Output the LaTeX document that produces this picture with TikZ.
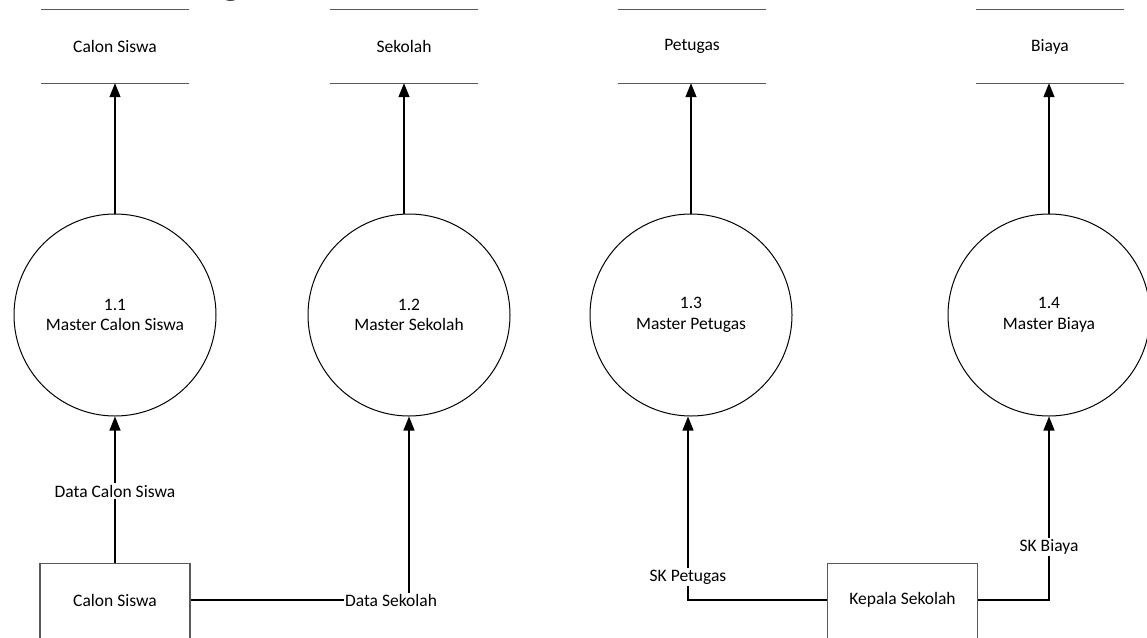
\documentclass[tikz,border=0pt]{standalone}
\usepackage{fontspec}
\setmainfont{Carlito}
\newfontfamily\titlefont{Liberation Serif}
\usetikzlibrary{arrows.meta}
\begin{document}
\begin{tikzpicture}[x=1pt,y=-1pt,
  font=\fontsize{17.5}{20.5}\selectfont,
  proc/.style={circle, draw=black, line width=1pt, minimum size=202pt, inner sep=0pt, align=center, text=black},
  storenode/.style={minimum width=148pt, minimum height=73pt, inner sep=0pt, text=black},
  storeline/.style={draw=black!65, line width=1.3pt},
  entbox/.style={draw=black!65, line width=1.3pt, minimum width=150pt, minimum height=95pt, inner sep=0pt, anchor=north},
  enttext/.style={inner sep=0pt, text=black},
  flow/.style={draw=black, line width=1.3pt},
  flowarr/.style={flow, -{Triangle[length=14pt,width=11pt]}},
  lbl/.style={fill=white, inner sep=1.5pt, text=black}]
\useasboundingbox (0,0) rectangle (1147,637);
\clip (0,0) rectangle (1147,637);
\fill[white] (0,0) rectangle (1147,637);

% cut-off title fragment
\node[font=\titlefont\fontsize{36}{36}\selectfont, anchor=base, inner sep=0pt] (ttl) at (231,-6.5) {g};

% data stores
\node[storenode] (ds1) at (115,46.5) {Calon Siswa};
\node[storenode] (ds2) at (404,46.5) {Sekolah};
\node[storenode] (ds3) at (692,46.5) {Petugas};
\node[storenode] (ds4) at (1050,46.5) {Biaya};
\foreach \s in {ds1,ds2,ds3,ds4}{
  \draw[storeline] (\s.north west) -- (\s.north east);
  \draw[storeline] (\s.south west) -- (\s.south east);
}

% processes
\node[proc] (p1) at (115,315) {1.1\\Master Calon Siswa};
\node[proc] (p2) at (409,315) {1.2\\Master Sekolah};
\node[proc] (p3) at (691,315) {1.3\\Master Petugas};
\node[proc] (p4) at (1049,315) {1.4\\Master Biaya};

% process -> store arrows
\draw[flowarr] (p1.north) -- (ds1.south);
\draw[flowarr] (p2.north -| ds2.south) -- (ds2.south);
\draw[flowarr] (p3.north) -- (p3.north |- ds3.south);
\draw[flowarr] (p4.north) -- (p4.north |- ds4.south);

% external entities
\node[entbox] (e1) at (115,563) {};
\node[enttext] (e1t) at (115,600) {Calon Siswa};
\node[entbox] (e2) at (902.5,563) {};
\node[enttext] (e2t) at (902.5,600) {Kepala Sekolah};

% Data Calon Siswa
\node[lbl] (l1) at (115,491) {Data Calon Siswa};
\draw[flow] (e1.north) -- (l1.south);
\draw[flowarr] (l1.north) -- (p1.south);

% Data Sekolah
\node[lbl, inner sep=0.5pt] (l2) at (391,600) {Data Sekolah};
\draw[flow] (e1.east |- e1t) -- (l2.west);
\draw[flowarr] (l2.north -| p2.south) -- (p2.south);

% SK Petugas
\node[lbl] (l3) at (688,577) {SK Petugas};
\coordinate (k3) at (688,600);
\draw[flow] (e2.west |- e2t) -- (k3) -- (l3.south);
\draw[flowarr] (l3.north) -- (l3.north |- p3.south);

% SK Biaya
\node[lbl] (l4) at (1049,547) {SK Biaya};
\coordinate (k4) at (1049,600);
\draw[flow] (e2.east |- e2t) -- (k4) -- (l4.south);
\draw[flowarr] (l4.north) -- (p4.south);
\end{tikzpicture}
\end{document}
